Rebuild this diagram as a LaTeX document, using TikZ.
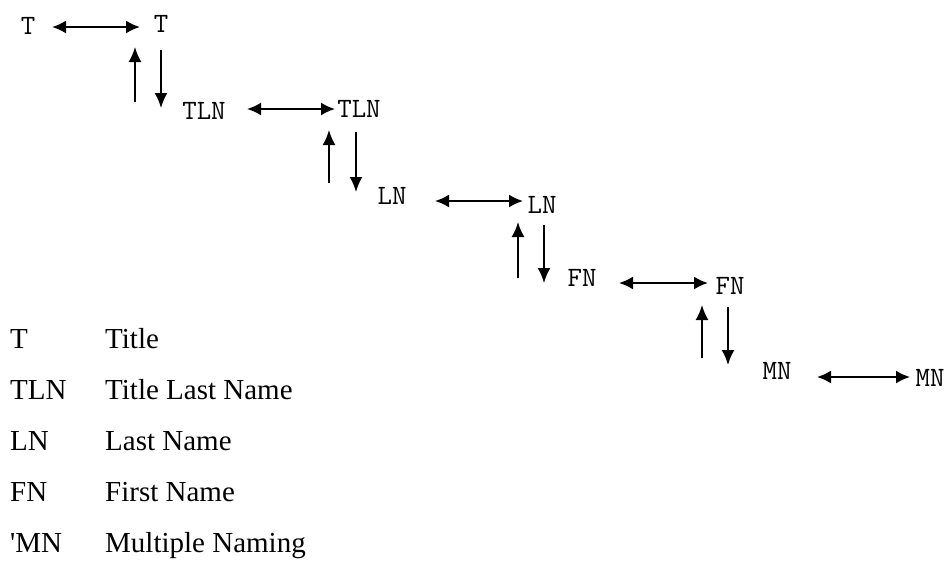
\documentclass[tikz,border=0pt]{standalone}
\usepackage{fontspec}
\usetikzlibrary{arrows.meta,calc}
\newfontfamily\lgd{Liberation Serif}
\begin{document}
\begin{tikzpicture}[x=1pt,y=-1pt,
  abbr/.style={font=\ttfamily\fontsize{28}{28}\selectfont, inner sep=0pt, text height=17pt, text depth=0pt},
  leg/.style={font=\lgd\fontsize{29}{29}\selectfont, inner sep=0pt, anchor=base west},
  harr/.style={line width=2pt, {Latex[length=14pt,width=13pt]}-{Latex[length=14pt,width=13pt]}},
  varr/.style={line width=2pt, -{Latex[length=15pt,width=13pt]}}]
\useasboundingbox (0,0) rectangle (951,571);
% diagram nodes
\node[abbr] (T1) at (28,26) {T};
\node[abbr] (T2) at (161,24) {T};
\node[abbr] (TLN1) at (204,111) {TLN};
\node[abbr] (TLN2) at (359,109) {TLN};
\node[abbr] (LN1) at (392,196) {LN};
\node[abbr] (LN2) at (542,205) {LN};
\node[abbr] (FN1) at (582,278) {FN};
\node[abbr] (FN2) at (730,286) {FN};
\node[abbr] (MN1) at (777,371) {MN};
\node[abbr] (MN2) at (930,378) {MN};
% horizontal double arrows
\draw[harr] ($(T1.center)+(24,1)$) -- ($(T2.center)+(-21,3)$);
\draw[harr] ($(TLN1.center)+(43,-2)$) -- ($(TLN2.center)+(-24,0)$);
\draw[harr] ($(LN1.center)+(43,5)$) -- ($(LN2.center)+(-19,-4)$);
\draw[harr] ($(FN1.center)+(37,5)$) -- ($(FN2.center)+(-22,-3)$);
\draw[harr] ($(MN1.center)+(40,6)$) -- ($(MN2.center)+(-20,-1)$);
% vertical arrows
\draw[varr] ($(T2.center |- TLN1.center)+(-26,-9)$) -- ($(T2.center)+(-26,23)$);
\draw[varr] ($(T2.center)+(0,26)$) -- ($(T2.center |- TLN1.center)+(0,-3)$);
\draw[varr] ($(TLN2.center |- LN1.center)+(-30,-13)$) -- ($(TLN2.center)+(-30,21)$);
\draw[varr] ($(TLN2.center)+(-3,23)$) -- ($(TLN2.center |- LN1.center)+(-3,-4)$);
\draw[varr] ($(LN2.center |- FN1.center)+(-24,0)$) -- ($(LN2.center)+(-24,17)$);
\draw[varr] ($(LN2.center)+(2,20)$) -- ($(LN2.center |- FN1.center)+(2,5)$);
\draw[varr] ($(FN2.center |- MN1.center)+(-28,-13)$) -- ($(FN2.center)+(-28,19)$);
\draw[varr] ($(FN2.center)+(-2,21)$) -- ($(FN2.center |- MN1.center)+(-2,-6)$);
% legend
\node[leg] (k1) at (10,348) {T};
\node[leg] (v1) at (105,348) {Title};
\node[leg] (k2) at (10,399) {TLN};
\node[leg] (v2) at (105,399) {Title Last Name};
\node[leg] (k3) at (10,450) {LN};
\node[leg] (v3) at (105,450) {Last Name};
\node[leg] (k4) at (10,501) {FN};
\node[leg] (v4) at (105,501) {First Name};
\node[leg] (k5) at (10,552) {'MN};
\node[leg] (v5) at (105,552) {Multiple Naming};
\end{tikzpicture}
\end{document}
